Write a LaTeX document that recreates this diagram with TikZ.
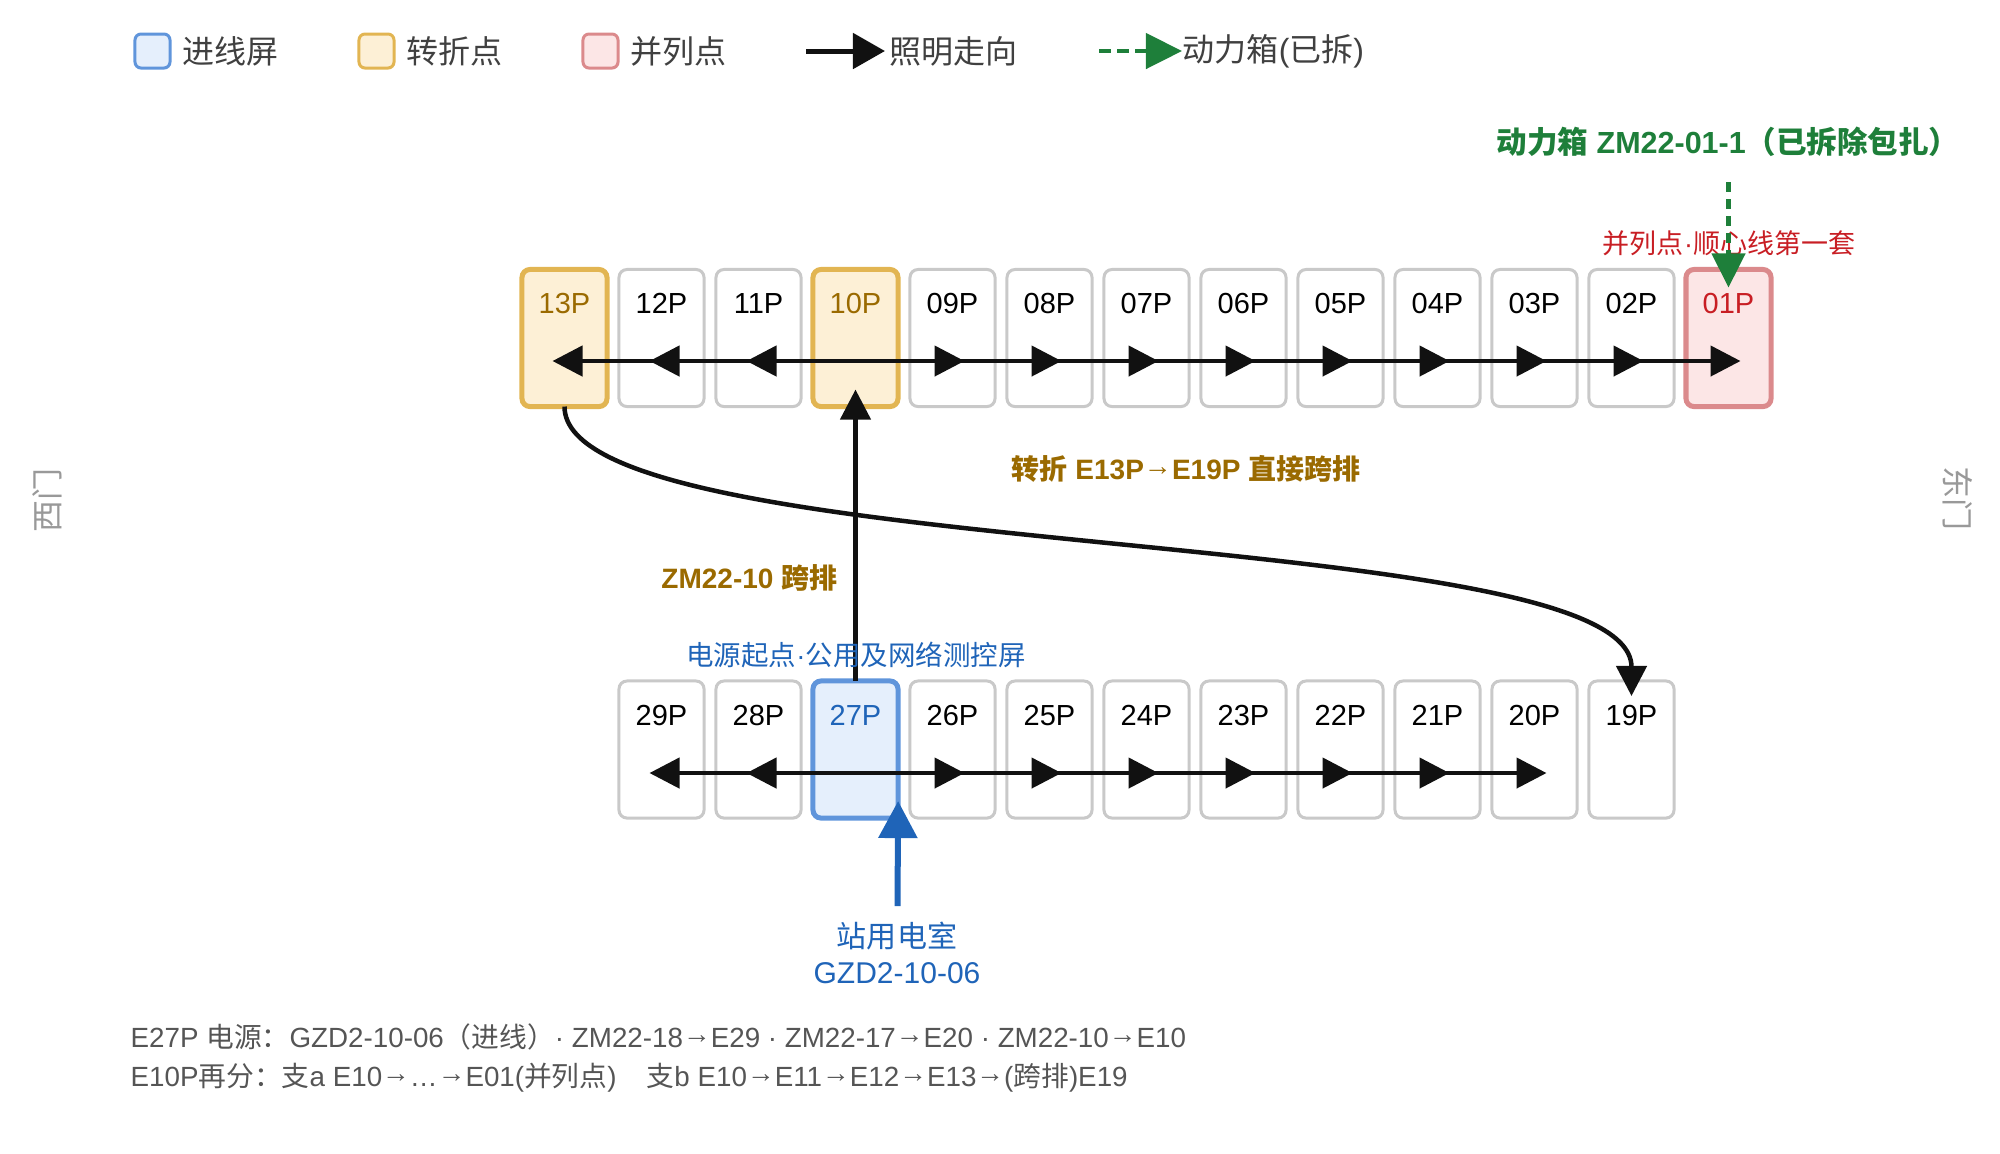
\documentclass[tikz,border=0pt]{standalone}
\usepackage{fontspec}
\usepackage{xcolor}
\usepackage{tikz}
\usetikzlibrary{arrows.meta,positioning}
\setmainfont{Liberation Sans}
\newfontfamily\latinfont{Liberation Sans}
\newfontfamily\cjkfont{Noto Sans CJK SC}
% Han characters and CJK punctuation switch to the CJK family
\XeTeXinterchartokenstate=1
\newcount\cjkcode
\newcommand\cjkrange[2]{\cjkcode=#1 \loop\XeTeXcharclass\cjkcode=7 \ifnum\cjkcode<#2 \advance\cjkcode by 1 \repeat}
\cjkrange{"3000}{"303F}
\cjkrange{"4E00}{"9FFF}
\cjkrange{"FF00}{"FFEF}
\XeTeXinterchartoks 0 7 = {\cjkfont}
\XeTeXinterchartoks 4095 7 = {\cjkfont}
\XeTeXinterchartoks 7 0 = {\latinfont}
\XeTeXinterchartoks 7 4095 = {\latinfont}
\newcommand\pxf[1]{\fontsize{\fpeval{#1*0.2845}pt}{\fpeval{#1*0.2845*1.2}pt}\selectfont}
\newcommand\ra{\raisebox{0.16em}{→}}

\definecolor{feedfill}{HTML}{E5EFFC}
\definecolor{feeddraw}{HTML}{6095DB}
\definecolor{feedtext}{HTML}{1F64B8}
\definecolor{turnfill}{HTML}{FDF0D6}
\definecolor{turndraw}{HTML}{E2B552}
\definecolor{turntext}{HTML}{9A6A00}
\definecolor{parafill}{HTML}{FCE6E6}
\definecolor{paradraw}{HTML}{DB8A8C}
\definecolor{paratext}{HTML}{C81E24}
\definecolor{pwrgreen}{HTML}{1E7F3A}
\definecolor{panelgray}{HTML}{C9C9C9}
\definecolor{flow}{HTML}{111111}
\definecolor{notegray}{HTML}{555555}
\definecolor{sidegray}{HTML}{999999}

\tikzset{
  panel/.style={draw=panelgray,fill=white,line width=0.03cm,rounded corners=0.08cm,outer sep=0pt,
    minimum width=0.85cm,inner sep=0pt,text height=0.44cm,text depth=0.93cm,font=\pxf{29}},
  turnbox/.style={draw=turndraw,fill=turnfill,text=turntext,line width=0.05cm},
  parabox/.style={draw=paradraw,fill=parafill,text=paratext,line width=0.05cm},
  feedbox/.style={draw=feeddraw,fill=feedfill,text=feedtext,line width=0.05cm},
  col13/.style={turnbox}, col10/.style={turnbox},
  col01/.style={parabox}, col27/.style={feedbox},
  flowarrow/.style={draw=flow,line width=0.045cm,-{Triangle[length=0.30cm,width=0.30cm]},shorten >=-0.12cm},
  pwrarrow/.style={draw=pwrgreen,line width=0.045cm,dash pattern=on 0.10cm off 0.07cm,
    -{Triangle[length=0.34cm,width=0.33cm]}},
  legbox/.style={minimum width=0.35cm,minimum height=0.34cm,rounded corners=0.06cm,line width=0.03cm,inner sep=0pt},
  legtxt/.style={inner sep=0pt,text=black!75,font=\pxf{32}},
  tag/.style={inner sep=0pt,font=\pxf{27.5}},
}

\begin{document}
\begin{tikzpicture}[x=0.01cm,y=-0.01cm]
\useasboundingbox (0,0) rectangle (2000,1153);

% legend
\node[legbox,draw=feeddraw,fill=feedfill] (lgfeed) at (152.5,51) {};
\node[legtxt,right=0.10cm of lgfeed] (lgfeedtxt) {进线屏};
\node[legbox,draw=turndraw,fill=turnfill] (lgturn) at (376.5,51) {};
\node[legtxt,right=0.10cm of lgturn] (lgturntxt) {转折点};
\node[legbox,draw=paradraw,fill=parafill] (lgpara) at (600.5,51) {};
\node[legtxt,right=0.10cm of lgpara] (lgparatxt) {并列点};
\coordinate (lgflow-a) at (806,51);
\coordinate (lgflow-b) at (885,51);
\draw[draw=flow,line width=0.05cm,-{Triangle[length=0.32cm,width=0.35cm]}] (lgflow-a) -- (lgflow-b);
\node[legtxt,right=0.04cm of lgflow-b] (lgflowtxt) {照明走向};
\coordinate (lgpwr-a) at (1099,51);
\coordinate (lgpwr-b) at (1182,51);
\draw[pwrarrow,dash pattern=on 0.12cm off 0.06cm,-{Triangle[length=0.36cm,width=0.35cm]}] (lgpwr-a) -- (lgpwr-b);
\node[legtxt,right=0pt of lgpwr-b] (lgpwrtxt) {动力箱(已拆)};

% panel rows
\foreach \n [count=\i from 0] in {13,12,11,10,09,08,07,06,05,04,03,02,01}{
  \node[panel,col\n/.try] (t\n) at ({564.5+97*\i},338) {\n P};
  \coordinate (t\n-w) at ({564.5+97*\i},361);
}
\foreach \n [count=\i from 1] in {29,28,27,26,25,24,23,22,21,20,19}{
  \node[panel,col\n/.try] (b\n) at ({564.5+97*\i},749.5) {\n P};
  \coordinate (b\n-w) at ({564.5+97*\i},773);
}

% lighting runs
\foreach \a/\b in {10/11,11/12,12/13,10/09,09/08,08/07,07/06,06/05,05/04,04/03,03/02,02/01}
  \draw[flowarrow] (t\a-w) -- (t\b-w);
\foreach \a/\b in {27/28,28/29,27/26,26/25,25/24,24/23,23/22,22/21,21/20}
  \draw[flowarrow] (b\a-w) -- (b\b-w);
\draw[flowarrow,shorten >=-0.17cm] (b27.north) -- (t10.south);
\draw[flowarrow,shorten >=-0.15cm] (t13.south) .. controls +(0,160) and +(0,-160) .. (b19.north);

% labels
\node[tag,font=\bfseries\pxf{28},text=turntext] (crosstxt) at (1186,469) {转折 E13P\ra E19P 直接跨排};
\node[tag,font=\bfseries\pxf{28},text=turntext,anchor=east] (jumptxt) at (838,578) {ZM22-10 跨排};
\node[tag,text=feedtext] (starttxt) at (856,655) {电源起点·公用及网络测控屏};
\node[tag,text=paratext,font=\pxf{27}] (paratxt) at (1729,243) {并列点·顺心线第一套};
\node[tag,text=pwrgreen,font=\bfseries\pxf{30.5}] (pwrtxt) at (1728,142) {动力箱 ZM22-01-1（已拆除包扎）};
\coordinate (pwr) at (1728.5,182);
\draw[pwrarrow,shorten >=-0.18cm] (pwr) -- (t01.north);

\node[tag,text=feedtext,font=\pxf{30},align=center] (room) at (897,953) {站用电室\\GZD2-10-06};
\coordinate (src) at (897.5,906);
\draw[draw=feedtext,line width=0.06cm,-{Triangle[length=0.37cm,width=0.38cm]},shorten >=-0.17cm] (src) -- (b27.south east);

% gates
\node[tag,text=sidegray,font=\pxf{32},rotate=90] (westgate) at (47,500) {西门};
\node[tag,text=sidegray,font=\pxf{32},rotate=-90] (eastgate) at (1958,498) {东门};

% notes
\node[tag,text=notegray,font=\pxf{27.75},anchor=west] (note1) at (130,1037) {E27P 电源：GZD2-10-06（进线）· ZM22-18\ra E29 · ZM22-17\ra E20 · ZM22-10\ra E10};
\node[tag,text=notegray,font=\pxf{27.75},anchor=west] (note2) at (130,1078) {E10P再分：支a E10\ra …\ra E01(并列点)\hspace{0.3cm}支b E10\ra E11\ra E12\ra E13\ra (跨排)E19};
\end{tikzpicture}
\end{document}
